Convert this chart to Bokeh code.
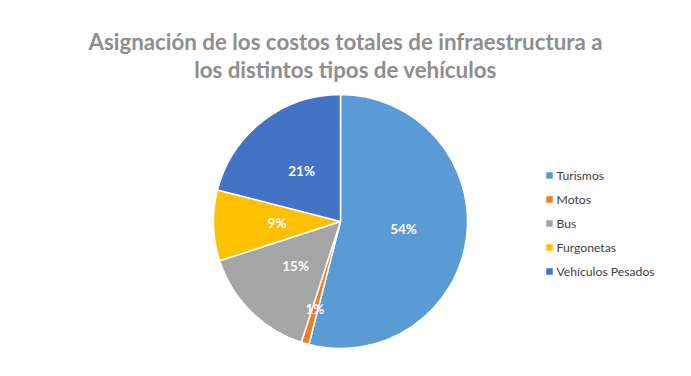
import math
from bokeh.plotting import figure
from bokeh.models import Range1d, ColumnDataSource
from bokeh.core.properties import value
from bokeh.embed import file_html
from bokeh.resources import INLINE

categories = ["Turismos", "Motos", "Bus", "Furgonetas", "Vehículos Pesados"]
percents = [54, 1, 15, 9, 21]
colors = ["#5B9BD5", "#ED7D31", "#A5A5A5", "#FFC000", "#4472C4"]
title_lines = ["Asignación de los costos totales de infraestructura a",
               "los distintos tipos de vehículos"]

W, H = 691, 376
p = figure(width=W, height=H, output_backend="svg", toolbar_location=None,
           x_range=Range1d(0, W), y_range=Range1d(0, H), min_border=0)
p.axis.visible = False
p.grid.visible = False
p.outline_line_color = None
p.background_fill_color = "white"

cx, cy, R = 340, 376 - 221, 127
total = sum(percents)
starts, ends, lx, ly, labels = [], [], [], [], []
cum = 0.0
for v in percents:
    a0 = math.pi / 2 - 2 * math.pi * cum / total
    a1 = math.pi / 2 - 2 * math.pi * (cum + v) / total
    starts.append(a0)
    ends.append(a1)
    mid = (a0 + a1) / 2
    rr = R * (0.5 if v >= 3 else 0.72)
    lx.append(cx + rr * math.cos(mid))
    ly.append(cy + rr * math.sin(mid))
    labels.append(f"{v}%")
    cum += v

src = ColumnDataSource(dict(start=starts, end=ends, color=colors, lx=lx, ly=ly, label=labels))
p.wedge(x=cx, y=cy, radius=R, start_angle="start", end_angle="end", direction="clock",
        fill_color="color", line_color="white", line_width=1.5, source=src)
p.text(x="lx", y="ly", text="label", source=src, text_color="white",
       text_font=value("Lato"), text_font_style="bold", text_font_size="13.5px",
       text_align="center", text_baseline="middle")

# title
p.text(x=[345, 345], y=[376 - 41, 376 - 69], text=title_lines, text_color="#8E8E8E",
       text_font=value("Lato"), text_font_style="bold", text_font_size="22.3px",
       text_align="center", text_baseline="middle")

# legend
n = len(categories)
leg_y = [376 - (175 + 24 * i) for i in range(n)]
p.scatter(x=[549] * n, y=leg_y, marker="square", size=6.5, fill_color=colors, line_color=None)
p.text(x=[556] * n, y=leg_y, text=categories, text_color="#404040",
       text_font=value("Lato"), text_font_size="12.2px",
       text_align="left", text_baseline="middle")

open("out.html", "w").write(file_html(p, INLINE))
